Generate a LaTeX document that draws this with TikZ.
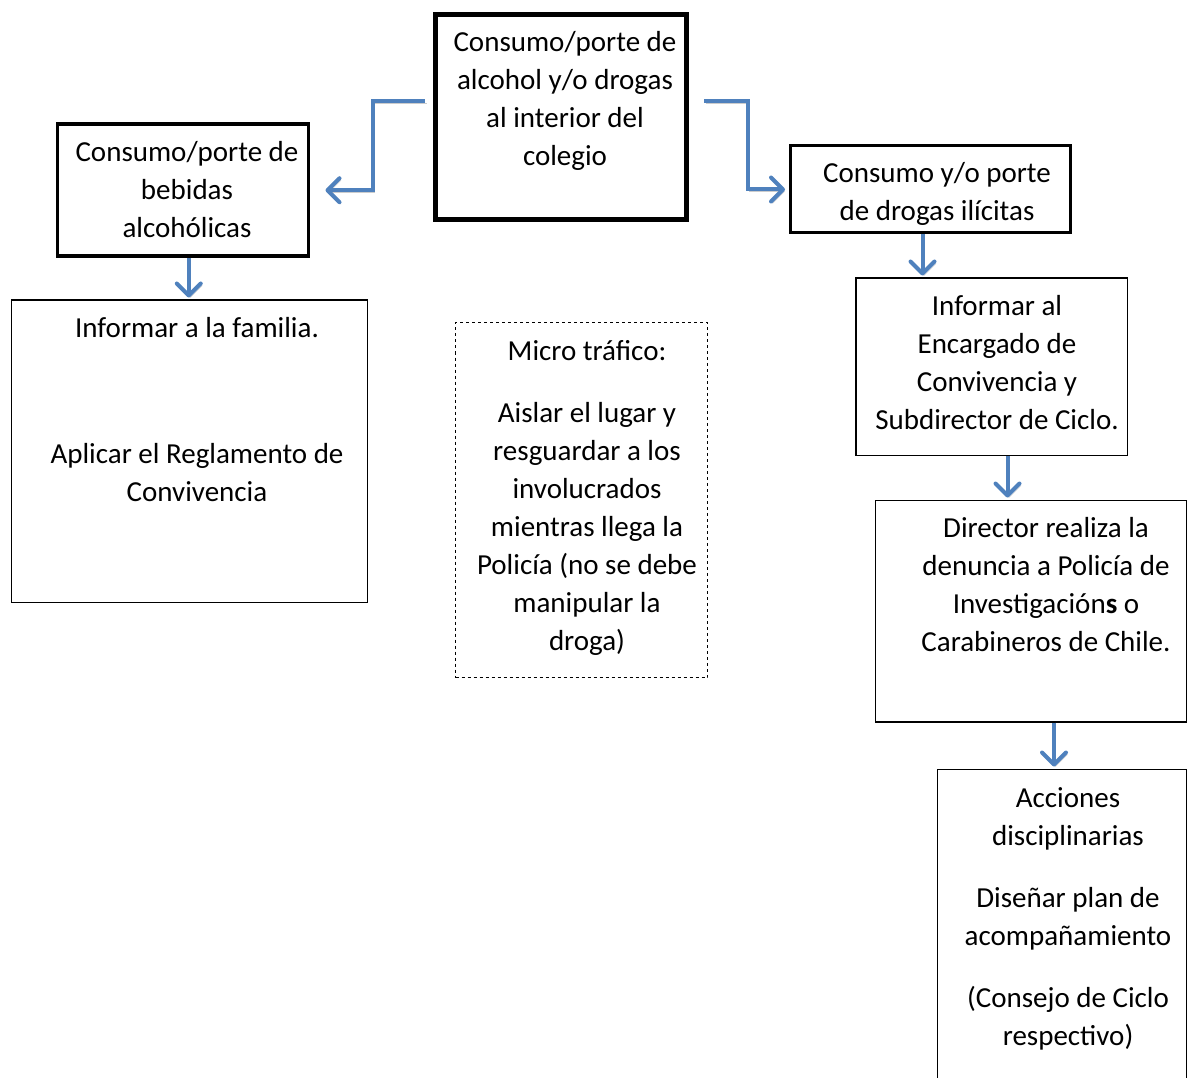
\documentclass[tikz,border=0pt]{standalone}
\usepackage{fontspec}
\setmainfont{Carlito}
\usetikzlibrary{arrows.meta}
\definecolor{arrowblue}{HTML}{4F81BD}

\begin{document}
\begin{tikzpicture}[x=1pt,y=-1pt,
    box/.style={draw, inner sep=0pt, anchor=north west},
    txt/.style={font=\fontsize{29}{38}\selectfont, align=center, inner sep=0pt, anchor=north},
    conn/.style={draw=arrowblue, line width=4pt, -{Straight Barb[round,length=12pt,width=24pt]},
        preaction={draw=black!20, transform canvas={shift={(1.5pt,-2pt)}}}}]
    \clip (0,0) rectangle (1187,1078);
    % boxes
    \node[box, line width=5pt, minimum width=251pt, minimum height=205pt] (top) at (433,12) {};
    \node[box, line width=3.5pt, minimum width=251pt, minimum height=132pt] (alc) at (55.5,122.5) {};
    \node[box, line width=3pt, minimum width=280pt, minimum height=87pt] (drog) at (788.5,144.5) {};
    \node[box, line width=1.5pt, minimum width=356pt, minimum height=302pt] (fam) at (10.5,299.5) {};
    \node[box, line width=1pt, dashed, minimum width=252pt, minimum height=355pt] (micro) at (455,322) {};
    \node[box, line width=1.5pt, minimum width=271.5pt, minimum height=177pt] (inf) at (855,277.5) {};
    \node[box, line width=1.5pt, minimum width=311.5pt, minimum height=221.5pt] (dir) at (874.5,499.5) {};
    \node[box, line width=1.5pt, minimum width=249.5pt, minimum height=330pt] (acc) at (936.5,768.5) {};
    % texts
    \node[txt] (topT) at (565,24.4) {\strut Consumo/porte de\\alcohol y/o drogas\\al interior del\\colegio};
    \node[txt] (alcT) at (187,134.4) {\strut Consumo/porte de\\bebidas\\alcohólicas};
    \node[txt] (drogT) at (937,155.4) {\strut Consumo y/o porte\\de drogas ilícitas};
    \node[txt] (famT) at (197,310.4) {\strut Informar a la familia.\\[88pt]Aplicar el Reglamento de\\Convivencia};
    \node[txt] (microT) at (587,333.4) {\strut Micro tráfico:\\[24pt]Aislar el lugar y\\resguardar a los\\involucrados\\mientras llega la\\Policía (no se debe\\manipular la\\droga)};
    \node[txt] (infT) at (997,288.4) {\strut Informar al\\Encargado de\\Convivencia y\\Subdirector de Ciclo.};
    \node[txt] (dirT) at (1046,510.4) {\strut Director realiza la\\denuncia a Policía de\\Investigación\textbf{s} o\\Carabineros de Chile.};
    \node[txt] (accT) at (1068,780.4) {\strut Acciones\\disciplinarias\\[24pt]Diseñar plan de\\acompañamiento\\[24pt](Consejo de Ciclo\\respectivo)};
    % arrows
    \draw[conn] ([shift={(-8pt,15.5pt)}]top.west) -- ++(-52pt,0) |- ([xshift=15.5pt]alc.east);
    \draw[conn] ([shift={(15pt,15.5pt)}]top.east) -- ++(44pt,0) |- ([xshift=-3.5pt]drog.west);
    \draw[conn, shorten >=2pt] ([xshift=6pt]alc.south) -- ([xshift=6pt]alc.south |- fam.north);
    \draw[conn, shorten >=2pt] ([xshift=-7.5pt]drog.south) -- ([xshift=-7.5pt]drog.south |- inf.north);
    \draw[conn, shorten >=2pt] ([xshift=16pt]inf.south) -- ([xshift=16pt]inf.south |- dir.north);
    \draw[conn, shorten >=2pt] ([xshift=23pt]dir.south) -- ([xshift=23pt]dir.south |- acc.north);
\end{tikzpicture}
\end{document}
